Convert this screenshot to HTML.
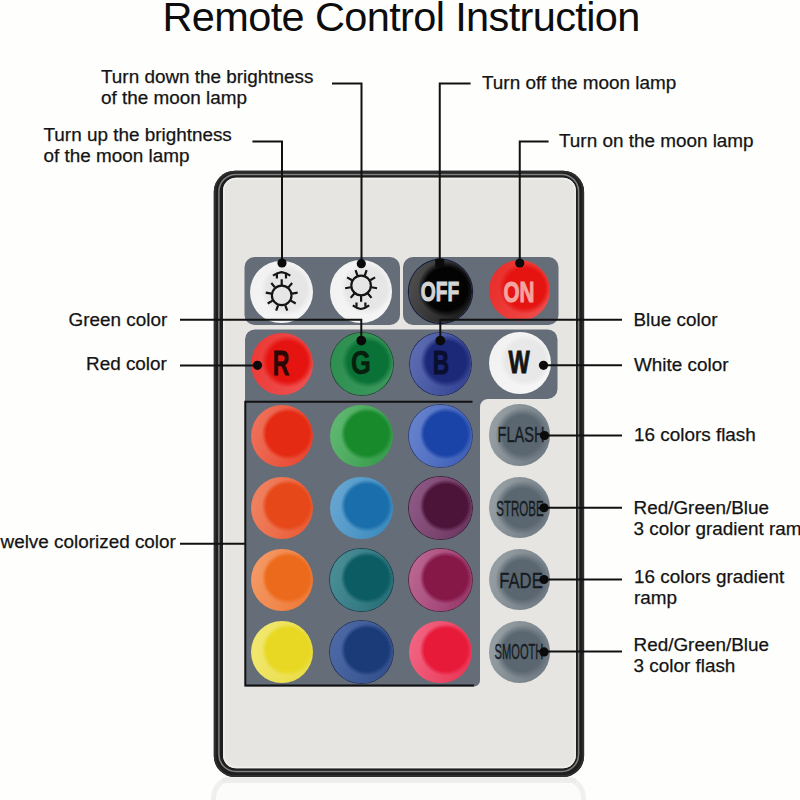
<!DOCTYPE html>
<html><head><meta charset="utf-8">
<style>
html,body{margin:0;padding:0;background:#fefefd;}
#c{position:relative;width:800px;height:800px;overflow:hidden;background:#fefefd;font-family:"Liberation Sans",sans-serif;color:#111;}
.t{position:absolute;font-size:18.9px;line-height:21px;white-space:nowrap;color:#141414;-webkit-text-stroke:0.25px #141414;}
.title{position:absolute;left:162.5px;top:-6.5px;font-size:41.5px;line-height:46px;letter-spacing:-0.63px;white-space:nowrap;color:#0d0d0d;}
svg{position:absolute;left:0;top:0;}
.b{position:absolute;border-radius:50%;box-sizing:border-box;}
.ml{position:absolute;line-height:1;white-space:nowrap;color:#161c22;-webkit-text-stroke:0.35px #161c22;}
.bl{position:absolute;line-height:1;white-space:nowrap;font-weight:bold;}
</style></head><body><div id="c">
<div class="title">Remote Control Instruction</div>

<div class="t" style="left:101px;top:66px">Turn down the brightness<br>of the moon lamp</div>
<div class="t" style="left:43.5px;top:124px">Turn up the brightness<br>of the moon lamp</div>
<div class="t" style="left:482px;top:72px">Turn off the moon lamp</div>
<div class="t" style="left:559px;top:130px">Turn on the moon lamp</div>
<div class="t" style="left:68.5px;top:309px">Green color</div>
<div class="t" style="left:86px;top:353px">Red color</div>
<div class="t" style="left:0.5px;top:531px">welve colorized color</div>
<div class="t" style="left:633.5px;top:309px">Blue color</div>
<div class="t" style="left:634px;top:353.5px">White color</div>
<div class="t" style="left:634px;top:424px">16 colors flash</div>
<div class="t" style="left:633.5px;top:497px">Red/Green/Blue<br>3 color gradient ramp</div>
<div class="t" style="left:634px;top:566px">16 colors gradient<br>ramp</div>
<div class="t" style="left:633.5px;top:633.6px">Red/Green/Blue<br>3 color flash</div>
<svg width="800" height="800" viewBox="0 0 800 800">
  <defs>
    <linearGradient id="refl" x1="0" y1="0" x2="0" y2="1">
      <stop offset="0" stop-color="#e4e4e4"/><stop offset="1" stop-color="#fefefd"/>
    </linearGradient>
  </defs>
  <rect x="213.5" y="778" width="370" height="100" rx="20" ry="20" fill="#fcfcfb" stroke="#e8e8e8" stroke-width="5" opacity="0.6"/>
  <rect x="222" y="778" width="354" height="5" fill="#e9e9e8" opacity="0.7"/>
  <rect x="213.8" y="170.75" width="370.3" height="606.25" rx="21" ry="21" fill="#1e1e1e"/>
  <rect x="214.8" y="171.75" width="368.3" height="604.25" rx="20" ry="20" fill="none" stroke="#2e2e2e" stroke-width="2"/>
  <rect x="218.9" y="174.4" width="359.7" height="597.1" rx="17" ry="17" fill="none" stroke="#808080" stroke-width="1.5"/>
  <rect x="223" y="177.75" width="352.9" height="590.5" rx="13" ry="13" fill="#e6e5e2"/>
  <rect x="223.9" y="178.65" width="351.1" height="588.7" rx="12" ry="12" fill="none" stroke="#efefec" stroke-width="1.6"/>
  <rect x="244.5" y="257" width="155.5" height="68" rx="10" ry="10" fill="#646d78"/>
  <rect x="403" y="257" width="155.5" height="68" rx="10" ry="10" fill="#646d78"/>
  <path d="M255,329.4 H547.5 A10,10 0 0 1 557.5,339.4 V389 A10,10 0 0 1 547.5,399 H488 A8,8 0 0 0 480,407 V680.5 A6,6 0 0 1 474,686.5 H245 V339.4 A10,10 0 0 1 255,329.4 Z" fill="#646d78"/>
</svg>
<div class="b" style="left:250.35px;top:260.55px;width:62.5px;height:62.5px;background:radial-gradient(circle at 36.75px 28.75px,#e6e6e6 0,#e6e6e6 20px,rgba(230,230,230,0) 26px),linear-gradient(110deg,#f2f2f2 15%,#f5f5f5 85%)"></div>
<div class="b" style="left:329.75px;top:260.25px;width:62.5px;height:62.5px;background:radial-gradient(circle at 36.75px 28.75px,#e6e6e6 0,#e6e6e6 20px,rgba(230,230,230,0) 26px),linear-gradient(110deg,#f2f2f2 15%,#f5f5f5 85%)"></div>
<div class="b" style="left:408.50px;top:259.50px;width:63px;height:63px;box-shadow:0 0 0 1.2px #161c38;background:radial-gradient(circle at 37.00px 29.00px,#030303 0,#030303 21.5px,rgba(3,3,3,0) 28px),linear-gradient(110deg,#4a4a4a 15%,#1f1f1f 85%)"></div>
<div class="b" style="left:488.50px;top:260.10px;width:61px;height:61px;background:radial-gradient(circle at 36.00px 28.00px,#e51410 0,#e51410 20px,rgba(229,20,16,0) 26px),linear-gradient(110deg,#e9302c 15%,#ed4b4a 85%)"></div>
<div class="b" style="left:250.80px;top:332.70px;width:62px;height:62px;background:radial-gradient(circle at 36.50px 28.50px,#e51411 0,#e51411 20px,rgba(229,20,17,0) 26px),linear-gradient(110deg,#ec3c39 15%,#ed4f4e 85%)"></div>
<div class="b" style="left:330.55px;top:332.50px;width:62.5px;height:62.5px;box-shadow:0 0 0 0.8px #0d4a22;background:radial-gradient(circle at 36.75px 28.75px,#0a7236 0,#0a7236 20px,rgba(10,114,54,0) 26px),linear-gradient(110deg,#2e9051 15%,#3b965c 85%)"></div>
<div class="b" style="left:409.75px;top:333.00px;width:61.5px;height:61.5px;box-shadow:0 0 0 0.8px #1a2468;background:radial-gradient(circle at 36.25px 28.25px,#1c2878 0,#1c2878 20px,rgba(28,40,120,0) 26px),linear-gradient(110deg,#5a6ab0 15%,#374695 85%)"></div>
<div class="b" style="left:488.70px;top:331.80px;width:62px;height:62px;background:radial-gradient(circle at 36.50px 28.50px,#e8e8e8 0,#e8e8e8 20px,rgba(232,232,232,0) 26px),linear-gradient(110deg,#f2f2f2 15%,#f6f6f6 85%)"></div>
<div class="bl" style="left:439.6px;top:278.2px;font-size:27.8px;color:#d4d4d4;-webkit-text-stroke:1.1px #d4d4d4;transform:translateX(-50%) scaleX(0.69)">OFF</div>
<div class="bl" style="left:519.4px;top:278.1px;font-size:28.7px;color:#f4a4a0;-webkit-text-stroke:1px #f4a4a0;transform:translateX(-50%) scaleX(0.72)">ON</div>
<div class="bl" style="left:280.9px;top:345.9px;font-size:34.5px;color:#2a0806;-webkit-text-stroke:0.8px #2a0806;transform:translateX(-50%) scaleX(0.666)">R</div>
<div class="bl" style="left:361.1px;top:344.9px;font-size:34px;color:#06200e;-webkit-text-stroke:0.6px #06200e;transform:translateX(-50%) scaleX(0.75)">G</div>
<div class="bl" style="left:440.5px;top:346.4px;font-size:33.8px;color:#0a0f30;-webkit-text-stroke:1px #0a0f30;transform:translateX(-50%) scaleX(0.67)">B</div>
<div class="bl" style="left:519.4px;top:348.3px;font-size:30.8px;color:#151515;-webkit-text-stroke:0.9px #151515;transform:translateX(-50%) scaleX(0.73)">W</div>
<svg width="800" height="800" viewBox="0 0 800 800">
 <g stroke="#141414" stroke-width="2.2" fill="none">
  <circle cx="281.7" cy="295.4" r="9.8"/>
  <path d="M281.70,284.90L281.70,279.20M288.45,287.36L292.11,282.99M292.04,293.58L297.65,292.59M290.79,300.65L295.73,303.50M285.29,305.27L287.24,310.62M278.11,305.27L276.16,310.62M272.61,300.65L267.67,303.50M271.36,293.58L265.75,292.59M274.95,287.36L271.29,282.99"/>
  <path d="M273,275.6 Q277.5,272.6 281.6,272.1 Q285.7,272.6 290.3,275.6"/>
  <path d="M276.9,274V278.4M286,274V278.4"/>
  <circle cx="361.1" cy="285.45" r="9.8"/>
  <path d="M361.10,295.95L361.10,301.65M354.35,293.49L350.69,297.86M350.76,287.27L345.15,288.26M352.01,280.20L347.07,277.35M357.51,275.58L355.56,270.23M364.69,275.58L366.64,270.23M370.19,280.20L375.13,277.35M371.44,287.27L377.05,288.26M367.85,293.49L371.51,297.86"/>
  <path d="M352.8,305.4 Q357,308.5 360.9,309 Q364.9,308.5 369.2,305.4"/>
  <path d="M356.5,302.6V306.8M365.4,302.6V306.8"/>
 </g>
</svg>
<div class="b" style="left:250.75px;top:404.75px;width:62.5px;height:62.5px;background:radial-gradient(circle at 36.75px 28.75px,#e42a12 0,#e42a12 21.5px,rgba(228,42,18,0) 26px),linear-gradient(110deg,#ee6e57 15%,#e94832 85%)"></div>
<div class="b" style="left:330.25px;top:404.75px;width:62.5px;height:62.5px;background:radial-gradient(circle at 36.75px 28.75px,#188a2c 0,#188a2c 21.5px,rgba(24,138,44,0) 26px),linear-gradient(110deg,#5db66e 15%,#389d4c 85%)"></div>
<div class="b" style="left:409.25px;top:404.75px;width:62.5px;height:62.5px;box-shadow:0 0 0 0.8px #2a3a80;background:radial-gradient(circle at 36.75px 28.75px,#1a44a8 0,#1a44a8 21.5px,rgba(26,68,168,0) 26px),linear-gradient(110deg,#6480cc 15%,#4062b9 85%)"></div>
<div class="b" style="left:250.75px;top:476.75px;width:62.5px;height:62.5px;background:radial-gradient(circle at 36.75px 28.75px,#e6481a 0,#e6481a 21.5px,rgba(230,72,26,0) 26px),linear-gradient(110deg,#ef805e 15%,#ea5e38 85%)"></div>
<div class="b" style="left:330.25px;top:476.75px;width:62.5px;height:62.5px;background:radial-gradient(circle at 36.75px 28.75px,#1a6eac 0,#1a6eac 21.5px,rgba(26,110,172,0) 26px),linear-gradient(110deg,#64a4d0 15%,#3e8cbf 85%)"></div>
<div class="b" style="left:409.25px;top:476.75px;width:62.5px;height:62.5px;box-shadow:0 0 0 0.8px #3a1030;background:radial-gradient(circle at 36.75px 28.75px,#4c1438 0,#4c1438 21.5px,rgba(76,20,56,0) 26px),linear-gradient(110deg,#8c5682 15%,#6e3863 85%)"></div>
<div class="b" style="left:250.75px;top:548.75px;width:62.5px;height:62.5px;background:radial-gradient(circle at 36.75px 28.75px,#ec6a1c 0,#ec6a1c 21.5px,rgba(236,106,28,0) 26px),linear-gradient(110deg,#f49762 15%,#ee7c3b 85%)"></div>
<div class="b" style="left:330.25px;top:548.75px;width:62.5px;height:62.5px;box-shadow:0 0 0 0.8px #0a3a4a;background:radial-gradient(circle at 36.75px 28.75px,#0c5c64 0,#0c5c64 21.5px,rgba(12,92,100,0) 26px),linear-gradient(110deg,#488c94 15%,#2a727a 85%)"></div>
<div class="b" style="left:409.25px;top:548.75px;width:62.5px;height:62.5px;box-shadow:0 0 0 0.8px #5a1838;background:radial-gradient(circle at 36.75px 28.75px,#861848 0,#861848 21.5px,rgba(134,24,72,0) 26px),linear-gradient(110deg,#b96390 15%,#9a3c6e 85%)"></div>
<div class="b" style="left:250.75px;top:620.75px;width:62.5px;height:62.5px;background:radial-gradient(circle at 36.75px 28.75px,#e8d824 0,#e8d824 21.5px,rgba(232,216,36,0) 26px),linear-gradient(110deg,#f1e76e 15%,#eadd48 85%)"></div>
<div class="b" style="left:330.25px;top:620.75px;width:62.5px;height:62.5px;box-shadow:0 0 0 0.8px #1a2a5a;background:radial-gradient(circle at 36.75px 28.75px,#1a3a78 0,#1a3a78 21.5px,rgba(26,58,120,0) 26px),linear-gradient(110deg,#4c68a4 15%,#34528f 85%)"></div>
<div class="b" style="left:409.25px;top:620.75px;width:62.5px;height:62.5px;background:radial-gradient(circle at 36.75px 28.75px,#e81a3a 0,#e81a3a 21.5px,rgba(232,26,58,0) 26px),linear-gradient(110deg,#f0627f 15%,#ea3a5a 85%)"></div>
<div class="b" style="left:488.55px;top:404.35px;width:61.5px;height:61.5px;background:radial-gradient(circle at 33.25px 30.75px,#5a6670 0,#5a6670 19.5px,rgba(90,102,112,0) 27px),linear-gradient(110deg,#949ea2 15%,#727c85 85%)"></div>
<div class="ml" style="left:520.8px;top:424px;font-size:22px;transform:translateX(-50%) scaleX(0.662)">FLASH</div>
<div class="b" style="left:488.55px;top:476.75px;width:61.5px;height:61.5px;background:radial-gradient(circle at 33.25px 30.75px,#5a6670 0,#5a6670 19.5px,rgba(90,102,112,0) 27px),linear-gradient(110deg,#949ea2 15%,#727c85 85%)"></div>
<div class="ml" style="left:520px;top:498.4px;font-size:21.2px;transform:translateX(-50%) scaleX(0.545)">STROBE</div>
<div class="b" style="left:488.55px;top:548.95px;width:61.5px;height:61.5px;background:radial-gradient(circle at 33.25px 30.75px,#5a6670 0,#5a6670 19.5px,rgba(90,102,112,0) 27px),linear-gradient(110deg,#949ea2 15%,#727c85 85%)"></div>
<div class="ml" style="left:520.5px;top:569.5px;font-size:22.5px;transform:translateX(-50%) scaleX(0.74)">FADE</div>
<div class="b" style="left:488.55px;top:621.45px;width:61.5px;height:61.5px;background:radial-gradient(circle at 33.25px 30.75px,#5a6670 0,#5a6670 19.5px,rgba(90,102,112,0) 27px),linear-gradient(110deg,#949ea2 15%,#727c85 85%)"></div>
<div class="ml" style="left:519.25px;top:641.3px;font-size:21.6px;transform:translateX(-50%) scaleX(0.515)">SMOOTH</div>
<svg width="800" height="800" viewBox="0 0 800 800">
  <g stroke="#111" stroke-width="2" fill="none">
    <path d="M252.4,141.5 H282 V263"/>
    <path d="M332,83.6 H361.5 V263.5"/>
    <path d="M470.6,83.6 H439.75 V263"/>
    <path d="M548.6,141.4 H519.75 V263"/>
    <path d="M180,319.75 H361.3 V340"/>
    <path d="M622,319.75 H440.3 V340"/>
    <path d="M180,365.5 H257.5"/>
    <path d="M622,365.3 H543.5"/>
    <path d="M180,543.8 H245.3"/>
    <path d="M472.5,401.75 H245.3 V685.5 H474"/>
    <path d="M622,435.5 H544.5"/>
    <path d="M622,507.75 H544"/>
    <path d="M622,579.5 H544"/>
    <path d="M622,651.5 H544"/>
  </g>
  <g fill="#0a0a0a">
    <circle cx="282" cy="263" r="4.6"/>
    <circle cx="361.3" cy="263.7" r="4.6"/>
    <rect x="435.2" y="258.5" width="9.2" height="9" rx="1.5"/>
    <circle cx="519.75" cy="263" r="4.6"/>
    <circle cx="361.3" cy="340.6" r="4.9"/>
    <circle cx="440.3" cy="340.6" r="4.9"/>
    <circle cx="257.5" cy="365.3" r="4.6"/>
    <circle cx="543.5" cy="365.3" r="4.6"/>
    <circle cx="544.5" cy="435.5" r="4.6"/>
    <circle cx="544" cy="507.75" r="4.6"/>
    <circle cx="544" cy="579.5" r="4.6"/>
    <circle cx="544" cy="651.9" r="4.6"/>
  </g>
</svg>
</div></body></html>
